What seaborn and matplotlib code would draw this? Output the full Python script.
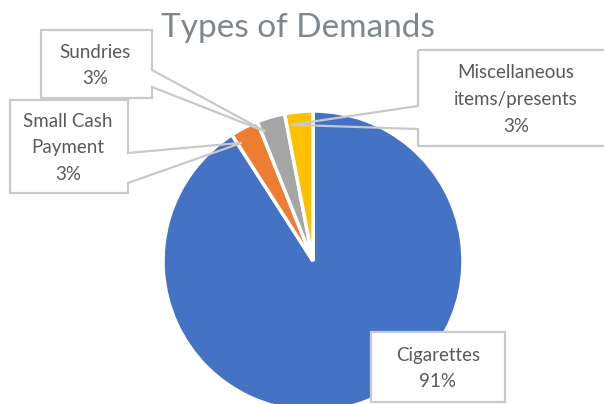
import matplotlib
matplotlib.use("Agg")
import matplotlib.pyplot as plt
import seaborn as sns
import numpy as np
from matplotlib.patches import Polygon, Rectangle

sns.set_style("white")
plt.rcParams['font.family'] = ['Lato', 'DejaVu Sans']

# data
categories = ['Cigarettes', 'Small Cash\nPayment', 'Sundries', 'Miscellaneous\nitems/presents']
counts = [30, 1, 1, 1]
colors = ['#4472C4', '#ED7D31', '#A5A5A5', '#FFC000']

W, H = 604, 404
fig = plt.figure(figsize=(6.04, 4.04), dpi=100)
ax = fig.add_axes([0, 0, 1, 1])

# pie centre / radius in pixels (image y goes down)
cx, cy, R = 313, 261, 150
wedges, _ = ax.pie(counts, colors=colors, startangle=90, counterclock=False,
                   center=(cx, H - cy), radius=R,
                   wedgeprops=dict(edgecolor='white', linewidth=2.5))
ax.set_xlim(0, W)
ax.set_ylim(0, H)
ax.set_aspect('equal')
ax.axis('off')

pct = [c / sum(counts) * 100 for c in counts]


def tip_of(w, frac=0.85, rf=0.92):
    th = np.deg2rad(w.theta1 + frac * (w.theta2 - w.theta1))
    return (cx + rf * R * np.cos(th), (H - cy) + rf * R * np.sin(th))


def callout(box, text, tx, tip=None, side=None, notch=None):
    # box = x0, y0, x1, y1 in image pixels
    x0, y0, x1, y1 = box
    ax.add_patch(Rectangle((x0, H - y1), x1 - x0, y1 - y0, facecolor='white',
                           edgecolor='none', zorder=3))
    if tip is None:
        pts = [(x0, y0), (x1, y0), (x1, y1), (x0, y1)]
        pts = [(x, H - y) for x, y in pts]
    elif side == 'right':
        pts = [(x0, H - y0), (x1, H - y0), (x1, H - notch[0]), tip,
               (x1, H - notch[1]), (x1, H - y1), (x0, H - y1)]
    else:
        pts = [(x0, H - y0), (x1, H - y0), (x1, H - y1), (x0, H - y1),
               (x0, H - notch[1]), tip, (x0, H - notch[0])]
    ax.add_patch(Polygon(pts, closed=True, fill=False, edgecolor='#C9C9C9',
                         linewidth=1.6, zorder=4))
    ax.text(tx, H - (y0 + y1) / 2 - 1.5, text, ha='center', va='center',
            fontsize=13.5, color='#595959', linespacing=1.7, zorder=5)


lab = [f"{categories[i]}\n{pct[i]:.0f}%" for i in range(len(counts))]

callout((371, 332, 505, 402), lab[0], 438)
callout((10, 100, 128, 193), lab[1], 68, tip_of(wedges[1]), 'right', (153, 183))
callout((41, 30, 152, 98), lab[2], 95, tip_of(wedges[2]), 'right', (70, 87))
callout((418, 50, 614, 146), lab[3], 516, tip_of(wedges[3]), 'left', (106, 129))

ax.text(298, H - 37, 'Types of Demands', ha='center', va='baseline',
        fontsize=24, color='#7F878E', zorder=5)

fig.savefig('out.png', dpi=100)
